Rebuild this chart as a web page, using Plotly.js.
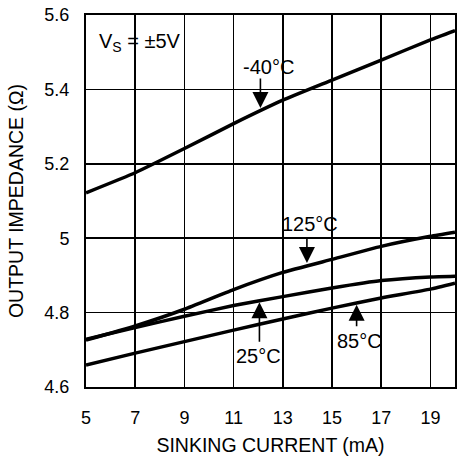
<!DOCTYPE html>
<html>
<head>
<meta charset="utf-8">
<script src="https://cdn.plot.ly/plotly-3.0.1.min.js"></script>
<style>html,body{margin:0;padding:0;background:#fff;}#chart{width:458px;height:459px;}</style>
</head>
<body>
<div id="chart"></div>
<script>
const current = [5, 7, 9, 11, 13, 15, 17, 19, 20];
const zMinus40 = [5.122, 5.176, 5.241, 5.308, 5.371, 5.425, 5.479, 5.533, 5.558];
const z125 = [4.726, 4.764, 4.809, 4.862, 4.908, 4.943, 4.978, 5.005, 5.016];
const z25 = [4.728, 4.760, 4.790, 4.819, 4.843, 4.866, 4.886, 4.896, 4.898];
const z85 = [4.659, 4.691, 4.722, 4.753, 4.783, 4.812, 4.839, 4.863, 4.879];
const xTicks = [5, 7, 9, 11, 13, 15, 17, 19];
const yTicks = [4.6, 4.8, 5.0, 5.2, 5.4, 5.6];
const yTickText = ['4.6', '4.8', '5', '5.2', '5.4', '5.6'];

const FONT = 'Liberation Sans, Arial, Helvetica, sans-serif';
const lineStyle = {color: '#000', width: 3.5, shape: 'spline', smoothing: 0.4};
const mk = (y, name) => ({x: current, y: y, name: name, mode: 'lines', line: lineStyle, hoverinfo: 'x+y'});
const traces = [mk(zMinus40, '-40°C'), mk(z125, '125°C'), mk(z25, '25°C'), mk(z85, '85°C')];

const txt = (x, y, t, anchor) => ({x: x, y: y, xref: 'x', yref: 'y', text: t, showarrow: false,
  xanchor: anchor || 'center', yanchor: 'middle', font: {family: FONT, size: 20, color: '#000'}});
const arr = (x, y, ay) => ({x: x, y: y, xref: 'x', yref: 'y', text: '', showarrow: true, ax: 0, ay: ay,
  arrowhead: 2, arrowsize: 2, arrowwidth: 1.6, arrowcolor: '#000', standoff: 0, startstandoff: 0});

const layout = {
  width: 458, height: 459,
  margin: {l: 86, r: 1, t: 15, b: 72},
  paper_bgcolor: '#fff', plot_bgcolor: '#fff',
  showlegend: false,
  font: {family: FONT, color: '#000'},
  xaxis: {
    range: [5, 20], tickvals: xTicks, ticktext: xTicks.map(String),
    showgrid: true, gridcolor: '#000', gridwidth: 1.5, zeroline: false,
    showline: true, mirror: true, linecolor: '#000', linewidth: 2,
    ticks: 'outside', ticklen: 13, tickcolor: 'rgba(0,0,0,0)',
    tickfont: {family: FONT, size: 18, color: '#000'},
    automargin: true,
    title: {text: 'SINKING CURRENT (mA)', font: {family: FONT, size: 19.5, color: '#000'}, standoff: 12}
  },
  yaxis: {
    range: [4.6, 5.6], tickvals: yTicks, ticktext: yTickText,
    showgrid: true, gridcolor: '#000', gridwidth: 1.5, zeroline: false,
    showline: true, mirror: true, linecolor: '#000', linewidth: 2,
    ticks: 'outside', ticklen: 11, tickcolor: 'rgba(0,0,0,0)',
    tickfont: {family: FONT, size: 18, color: '#000'},
    automargin: true,
    title: {text: 'OUTPUT IMPEDANCE (Ω)', font: {family: FONT, size: 19.5, color: '#000'}, standoff: 16}
  },
  annotations: [
    txt(5.44, 5.525, 'V<sub>S</sub> = ±5V', 'left'),
    txt(12.43, 5.461, '-40°C'), arr(12.09, 5.350, -31),
    txt(14.10, 5.038, '125°C'), arr(13.98, 4.933, -27),
    txt(12.02, 4.683, '25°C'), arr(12.05, 4.828, 41),
    txt(16.11, 4.724, '85°C'), arr(16.0, 4.821, 23)
  ]
};

Plotly.newPlot('chart', traces, layout, {staticPlot: true, displayModeBar: false});
</script>
</body>
</html>
